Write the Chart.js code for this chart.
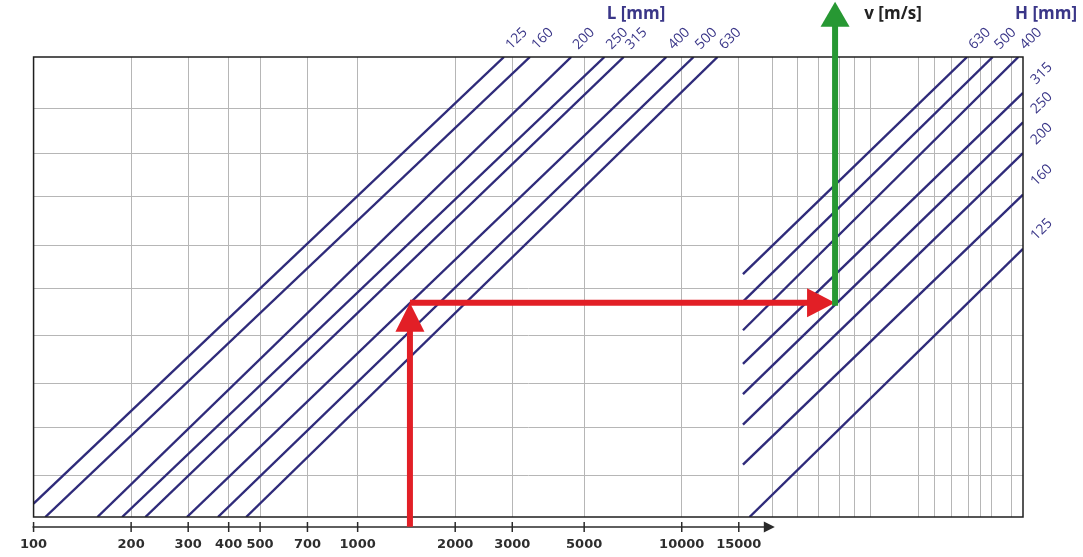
<!DOCTYPE html>
<html>
<head>
<meta charset="utf-8">
<script src="https://cdn.jsdelivr.net/npm/chart.js@4.4.1/dist/chart.umd.min.js"></script>
<style>
  html, body { margin: 0; padding: 0; background: #fff; }
  #wrap { width: 1083px; height: 557px; }
</style>
</head>
<body>
<div id="wrap"><canvas id="chart" width="1083" height="557"></canvas></div>
<script>
// Eje X: caudal, escala logarítmica
const xTickLabels = [100, 200, 300, 400, 500, 700, 1000, 2000, 3000, 5000, 10000, 15000];
const xGridValues = [100, 200, 300, 400, 500, 700, 1000, 2000, 3000, 5000, 10000, 15000,
  19100, 22750, 26480, 30580, 34080, 38170, 53650, 60100, 68000, 76700, 83300, 90300, 104300];
const yGridValues = [0.91, 1.94, 2.9, 3.94, 4.96, 5.9, 6.97, 7.91, 8.89];
const xMin = 100, xMax = 113000, yMin = 0, yMax = 10;

// Rectas L [mm]
const lNames  = ['125', '160', '200', '250', '315', '400', '500', '630'];
const lStartX = [100, 108.7, 157.4, 187.6, 221.3, 297.4, 370.6, 452.9];
const lStartY = [0.29, 0, 0, 0, 0, 0, 0, 0];
const lEndX   = [2828, 3401, 4560, 5775, 6622, 8967, 10880, 12900];
const lEndY   = [10, 10, 10, 10, 10, 10, 10, 10];

// Rectas H [mm]
const hNames  = ['630', '500', '400', '315', '250', '200', '160', '125'];
const hStartX = [15450, 15450, 15450, 15450, 15450, 15450, 15450, 16190];
const hStartY = [5.28, 4.68, 4.06, 3.33, 2.67, 2.01, 1.14, 0];
const hEndX   = [75960, 91130, 109330, 113000, 113000, 113000, 113000, 113000];
const hEndY   = [10, 10, 10, 9.22, 8.58, 7.91, 7.01, 5.83];

// Ejemplo de lectura (flechas)
const redX = [1450, 1450, 29730];
const redY = [-0.21, 4.66, 4.66];
const greenX = [29730, 29730];
const greenY = [4.66, 11.2];

const navy = '#2f2b7a';
const labelNavy = '#3a3688';

function lineSets(startX, startY, endX, endY) {
  return startX.map((sx, i) => ({
    data: [{ x: sx, y: startY[i] }, { x: endX[i], y: endY[i] }],
    borderColor: navy,
    borderWidth: 2.4,
    pointRadius: 0,
    fill: false
  }));
}

function arrow(ctx, x1, y1, x2, y2, color, len) {
  const ang = Math.atan2(y2 - y1, x2 - x1);
  const half = 14.5;
  const bx = x2 - Math.cos(ang) * len, by = y2 - Math.sin(ang) * len;
  ctx.strokeStyle = color;
  ctx.lineWidth = 6;
  ctx.lineCap = 'butt';
  ctx.beginPath();
  ctx.moveTo(x1, y1);
  ctx.lineTo(bx + Math.cos(ang) * 2, by + Math.sin(ang) * 2);
  ctx.stroke();
  ctx.fillStyle = color;
  ctx.beginPath();
  ctx.moveTo(x2, y2);
  ctx.lineTo(bx - Math.sin(ang) * half, by + Math.cos(ang) * half);
  ctx.lineTo(bx + Math.sin(ang) * half, by - Math.cos(ang) * half);
  ctx.closePath();
  ctx.fill();
}

const overlay = {
  id: 'overlay',
  afterDatasetsDraw(chart) {
    const { ctx, chartArea: a, scales: { x, y } } = chart;
    ctx.save();

    // marco
    ctx.strokeStyle = '#1e1e1e';
    ctx.lineWidth = 1.5;
    ctx.strokeRect(a.left, a.top, a.right - a.left, a.bottom - a.top);

    // eje inferior con flecha
    const ay = a.bottom + 10;
    const x0 = x.getPixelForValue(xMin) - 1;
    const xEnd = x.getPixelForValue(15000) + 36;
    ctx.strokeStyle = '#2a2a2a';
    ctx.fillStyle = '#2a2a2a';
    ctx.lineWidth = 1.5;
    ctx.beginPath();
    ctx.moveTo(x0, ay);
    ctx.lineTo(xEnd - 8, ay);
    ctx.stroke();
    ctx.beginPath();
    ctx.moveTo(xEnd, ay);
    ctx.lineTo(xEnd - 11, ay - 5.5);
    ctx.lineTo(xEnd - 11, ay + 5.5);
    ctx.closePath();
    ctx.fill();
    xTickLabels.forEach(v => {
      const px = x.getPixelForValue(v);
      ctx.beginPath();
      ctx.moveTo(px, ay - 5);
      ctx.lineTo(px, ay + 5);
      ctx.stroke();
    });

    // nombres de las rectas
    ctx.fillStyle = labelNavy;
    ctx.font = '14px "Open Sans"';
    ctx.textAlign = 'left';
    ctx.textBaseline = 'alphabetic';
    const names = (list, ex, ey) => list.forEach((n, i) => {
      const px = x.getPixelForValue(ex[i]), py = y.getPixelForValue(ey[i]);
      const atTop = ey[i] >= yMax;
      ctx.save();
      ctx.translate(px + (atTop ? 7 : 13), py - (atTop ? 7 : 8));
      ctx.rotate(-Math.PI / 4);
      ctx.fillText(n, 0, 0);
      ctx.restore();
    });
    names(lNames, lEndX, lEndY);
    names(hNames, hEndX, hEndY);

    // títulos
    ctx.textAlign = 'center';
    ctx.textBaseline = 'middle';
    ctx.font = 'bold 17px "Open Sans"';
    ctx.fillStyle = labelNavy;
    ctx.fillText('L [mm]', 636, 14);
    ctx.fillText('H [mm]', 1046, 14);
    ctx.fillStyle = '#222';
    ctx.fillText('v [m/s]', 893, 14);

    // flechas
    const rx = redX.map(v => x.getPixelForValue(v));
    const ry = redY.map(v => y.getPixelForValue(v));
    arrow(ctx, rx[0], ry[0], rx[1], ry[1], '#e21f26', 29);
    arrow(ctx, rx[1], ry[1], rx[2], ry[2], '#e21f26', 28);
    const gx = greenX.map(v => x.getPixelForValue(v));
    const gy = greenY.map(v => y.getPixelForValue(v));
    arrow(ctx, gx[0], gy[0] + 3, gx[1], gy[1], '#279833', 25);

    ctx.restore();
  }
};

new Chart(document.getElementById('chart'), {
  type: 'line',
  data: {
    datasets: [
      ...lineSets(lStartX, lStartY, lEndX, lEndY),
      ...lineSets(hStartX, hStartY, hEndX, hEndY)
    ]
  },
  options: {
    responsive: false,
    animation: false,
    layout: { padding: { left: 32, top: 57, right: 60, bottom: 0 } },
    plugins: { legend: { display: false }, tooltip: { enabled: false } },
    scales: {
      x: {
        type: 'logarithmic',
        min: xMin,
        max: xMax,
        afterBuildTicks: s => { s.ticks = xGridValues.map(v => ({ value: v })); },
        afterFit: s => { s.height = 40; },
        ticks: {
          autoSkip: false,
          maxRotation: 0,
          minRotation: 0,
          padding: 20,
          color: '#2e2e2e',
          font: { family: 'DejaVu Sans', size: 13, weight: 'bold' },
          callback: v => xTickLabels.includes(v) ? String(v) : ''
        },
        grid: { color: '#b6b6b6', lineWidth: 1, drawTicks: false },
        border: { display: false }
      },
      y: {
        type: 'linear',
        min: yMin,
        max: yMax,
        afterBuildTicks: s => { s.ticks = yGridValues.map(v => ({ value: v })); },
        afterFit: s => { s.width = 0; },
        ticks: { display: false },
        grid: { color: '#b6b6b6', lineWidth: 1, drawTicks: false },
        border: { display: false }
      }
    }
  },
  plugins: [overlay]
});
</script>
</body>
</html>
